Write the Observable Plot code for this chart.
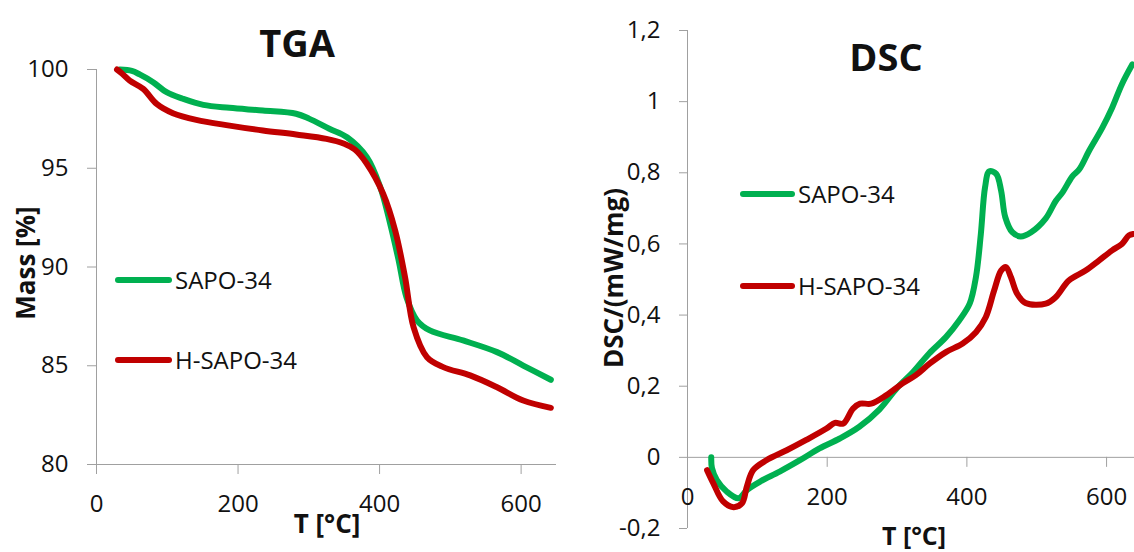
<!DOCTYPE html>
<html>
<head>
<meta charset="utf-8">
<script src="https://cdn.jsdelivr.net/npm/d3@7"></script>
<script src="https://cdn.jsdelivr.net/npm/@observablehq/plot@0.6"></script>
<style>
  html, body { margin: 0; padding: 0; background: #fff; overflow: hidden; }
  #chart { position: relative; width: 1134px; height: 552px; font-family: "Open Sans", sans-serif; color: #111; }
  #chart svg { position: absolute; top: 0; }
  .lbl { position: absolute; white-space: nowrap; line-height: 1; transform: translate(-50%, -50%); }
  .rot { transform: translate(-50%, -50%) rotate(-90deg); }
  .bold { font-weight: 700; }
  .key { position: absolute; display: flex; align-items: center; transform: translateY(-50%); font-size: 24px; line-height: 1; white-space: nowrap; }
  .key i { display: inline-block; height: 6px; border-radius: 3px; margin-right: 3px; }
</style>
</head>
<body>
<div id="chart"></div>
<script>
// Thermogravimetric curves: temperature (°C) and residual mass (%)
const tgaSapoT    = [33, 50, 61, 80, 99, 122, 151, 188, 235, 282, 301, 329, 354, 382, 401, 415, 427, 438, 453, 471, 518, 566, 603, 642];
const tgaSapoMass = [100.0, 99.93, 99.75, 99.36, 98.85, 98.52, 98.21, 98.06, 97.92, 97.76, 97.5, 97.0, 96.57, 95.56, 94.04, 92.19, 90.33, 88.47, 87.29, 86.79, 86.28, 85.69, 85.01, 84.29];
const tgaHT       = [29, 36, 47, 66, 85, 108, 141, 188, 235, 282, 325, 350, 365, 382, 405, 422, 436, 448, 467, 490, 528, 566, 603, 642];
const tgaHMass    = [100.0, 99.8, 99.44, 99.02, 98.26, 97.79, 97.45, 97.16, 96.91, 96.71, 96.49, 96.24, 95.95, 95.23, 93.71, 91.85, 89.48, 86.95, 85.43, 84.93, 84.51, 83.91, 83.24, 82.87];

// DSC heat flow curves: temperature (°C) and signal (mW/mg)
const dscSapoT   = [34, 35, 42, 56, 73, 85, 104, 132, 161, 189, 218, 246, 275, 300, 323, 346, 370, 389, 404, 413, 420, 426, 432, 442, 449, 455, 465, 477, 492, 513, 527, 537, 551, 561, 575, 594, 608, 622, 637];
const dscSapoVal = [0.0, -0.03, -0.064, -0.096, -0.115, -0.092, -0.068, -0.040, -0.008, 0.025, 0.053, 0.086, 0.135, 0.195, 0.24, 0.292, 0.338, 0.385, 0.432, 0.507, 0.628, 0.759, 0.804, 0.797, 0.75, 0.675, 0.633, 0.621, 0.633, 0.672, 0.72, 0.745, 0.79, 0.81, 0.862, 0.927, 0.983, 1.049, 1.105];
const dscHT      = [28, 37, 51, 66, 78, 85, 94, 113, 142, 170, 199, 211, 223, 237, 247, 263, 285, 308, 327, 347, 370, 394, 413, 427, 439, 449, 456, 463, 472, 484, 513, 527, 546, 570, 589, 608, 622, 632, 638];
const dscHVal    = [-0.036, -0.073, -0.124, -0.140, -0.129, -0.082, -0.036, -0.008, 0.020, 0.049, 0.081, 0.097, 0.095, 0.137, 0.151, 0.151, 0.175, 0.208, 0.231, 0.264, 0.296, 0.320, 0.352, 0.394, 0.469, 0.525, 0.535, 0.507, 0.460, 0.434, 0.432, 0.450, 0.497, 0.525, 0.553, 0.582, 0.600, 0.624, 0.628];

// Axis ticks
const tgaXTicks = [0, 200, 400, 600];
const tgaYTicks = [80, 85, 90, 95, 100];
const dscXTicks = [0, 200, 400, 600];
const dscYTicks = [-0.2, 0, 0.2, 0.4, 0.6, 0.8, 1, 1.2];

const seriesNames = ["SAPO-34", "H-SAPO-34"];
const green = "#00b050";
const red = "#c00000";
const axisGray = "#a0a0a0";
const ink = "#111";

const rows = (xs, ys) => xs.map((t, i) => ({t, v: ys[i]}));
const lineStyle = {x: "t", y: "v", strokeWidth: 6, strokeLinecap: "round", strokeLinejoin: "round", curve: "catmull-rom"};
const commaFormat = d => String(d).replace(".", ",");
const baseStyle = {fontFamily: "Open Sans", fontSize: "24px", color: ink, background: "transparent", overflow: "visible"};

const chart = document.getElementById("chart");

// Left panel: TGA
const tga = Plot.plot({
  width: 570, height: 552,
  marginLeft: 96, marginRight: 14, marginTop: 69, marginBottom: 88,
  x: {domain: [0, 650]},
  y: {domain: [80, 100]},
  style: baseStyle,
  marks: [
    Plot.ruleY([80], {stroke: axisGray}),
    Plot.ruleX([0], {stroke: axisGray}),
    Plot.axisX(tgaXTicks, {tickSize: 10, tickPadding: 20, stroke: axisGray, fill: ink, fontSize: 24, label: null}),
    Plot.axisY(tgaYTicks, {tickSize: 9, tickPadding: 19, stroke: axisGray, fill: ink, fontSize: 24, label: null}),
    Plot.line(rows(tgaSapoT, tgaSapoMass), {...lineStyle, stroke: green}),
    Plot.line(rows(tgaHT, tgaHMass), {...lineStyle, stroke: red})
  ]
});
tga.style.left = "0px";
chart.appendChild(tga);

// Right panel: DSC, with the temperature axis crossing at zero
const dsc = Plot.plot({
  width: 564, height: 552,
  marginLeft: 117, marginRight: 0, marginTop: 30, marginBottom: 24,
  x: {domain: [0, 640], axis: null},
  y: {domain: [-0.2, 1.2]},
  style: baseStyle,
  marks: [
    Plot.ruleY([0], {stroke: axisGray}),
    Plot.ruleX([0], {stroke: axisGray}),
    Plot.ruleX(dscXTicks, {x: d => d, y1: 0, y2: 0, insetBottom: -10, stroke: axisGray}),
    Plot.text(dscXTicks, {x: d => d, y: 0, dy: 40, text: d => String(d), fill: ink, fontSize: 24}),
    Plot.axisY(dscYTicks, {tickSize: 8, tickPadding: 19, stroke: axisGray, fill: ink, fontSize: 24, tickFormat: commaFormat, label: null}),
    Plot.line(rows(dscSapoT, dscSapoVal), {...lineStyle, stroke: green}),
    Plot.line(rows(dscHT, dscHVal), {...lineStyle, stroke: red})
  ]
});
dsc.style.left = "570px";
chart.appendChild(dsc);

// Titles, axis names and series keys
function label(text, x, y, size, cls) {
  const d = document.createElement("div");
  d.className = "lbl " + (cls || "");
  d.textContent = text;
  d.style.left = x + "px";
  d.style.top = y + "px";
  d.style.fontSize = size + "px";
  chart.appendChild(d);
}
function key(name, color, x, y, len) {
  const d = document.createElement("div");
  d.className = "key";
  d.style.left = x + "px";
  d.style.top = y + "px";
  const sw = document.createElement("i");
  sw.style.width = len + "px";
  sw.style.background = color;
  d.appendChild(sw);
  d.appendChild(document.createTextNode(name));
  chart.appendChild(d);
}

label("TGA", 297, 42, 38, "bold");
label("DSC", 886, 56, 38, "bold");
label("T [°C]", 327, 523, 26, "bold");
label("T [°C]", 914, 535, 25, "bold");
label("Mass [%]", 25, 263, 26, "bold rot");
label("DSC/(mW/mg)", 613, 278, 26, "bold rot");

key(seriesNames[0], green, 115, 280, 57);
key(seriesNames[1], red, 115, 360, 57);
key(seriesNames[0], green, 740, 194, 55);
key(seriesNames[1], red, 740, 286, 55);
</script>
</body>
</html>
